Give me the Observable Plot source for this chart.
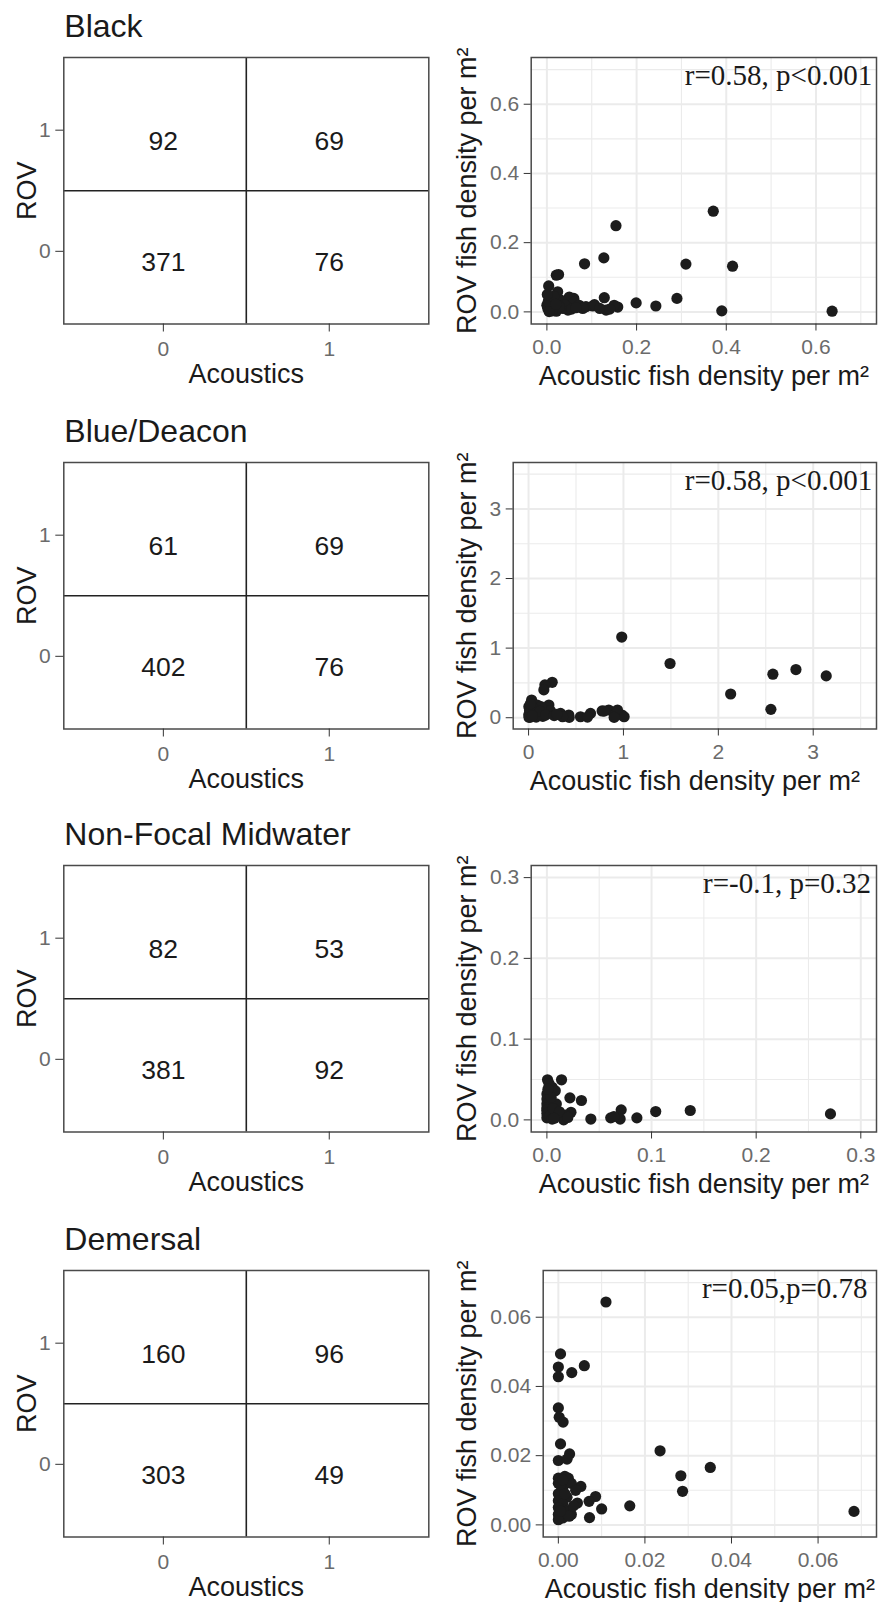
<!DOCTYPE html>
<html><head><meta charset="utf-8">
<script src="https://cdn.jsdelivr.net/npm/d3@7"></script>
<script src="https://cdn.jsdelivr.net/npm/@observablehq/plot@0.6"></script>
<style>
body{margin:0;background:#fff;}
#root{position:relative;width:882px;height:1602px;background:#fff;overflow:hidden;}
#root svg{position:absolute;}
</style></head><body><div id="root"></div>
<script>
// ---------- data ----------
const groupTitles = ["Black", "Blue/Deacon", "Non-Focal Midwater", "Demersal"];
const binaryTicks = [0, 1];
// [acoustics, rov, count]
const blackCounts = [[0, 1, 92], [1, 1, 69], [0, 0, 371], [1, 0, 76]];
const blueCounts = [[0, 1, 61], [1, 1, 69], [0, 0, 402], [1, 0, 76]];
const nonFocalCounts = [[0, 1, 82], [1, 1, 53], [0, 0, 381], [1, 0, 92]];
const demersalCounts = [[0, 1, 160], [1, 1, 96], [0, 0, 303], [1, 0, 49]];

const statLabels = ["r=0.58, p<0.001", "r=0.58, p<0.001", "r=-0.1, p=0.32", "r=0.05,p=0.78"];

// [acoustic density, ROV density]
const blackPoints = [[0.371,0.291],[0.154,0.249],[0.084,0.139],[0.127,0.156],[0.310,0.138],[0.414,0.132],[0.021,0.106],[0.026,0.108],[0.004,0.075],[0.024,0.058],[0.290,0.039],[0.199,0.026],[0.243,0.017],[0.390,0.003],[0.636,0.002],[0.128,0.041],[0.158,0.014],[0.132,0.005],[0.150,0.019],[0.060,0.039],[0.050,0.043],[0.061,0.029],[0.072,0.019],[0.087,0.015],[0.102,0.017],[0.106,0.021],[0.080,0.010],[0.047,0.005],[0.036,0.010],[0.021,0.002],[0.006,0.005],[0.000,0.019],[0.006,0.039],[0.017,0.029],[0.031,0.034],[0.002,0.010],[0.010,0.015],[0.012,0.003],[0.003,0.030],[0.015,0.045],[0.040,0.020],[0.028,0.015],[0.055,0.008],[0.065,0.012],[0.118,0.010],[0.140,0.008],[0.005,0.001],[0.001,0.050],[0.020,0.022]];
const bluePoints = [[0.982,1.159],[1.491,0.779],[2.130,0.341],[2.575,0.625],[2.818,0.692],[3.137,0.601],[2.554,0.120],[0.249,0.509],[0.172,0.472],[0.161,0.400],[0.032,0.255],[0.003,0.159],[0.091,0.183],[0.214,0.183],[0.230,0.100],[0.337,0.062],[0.424,0.039],[0.547,0.014],[0.653,0.062],[0.775,0.097],[0.845,0.111],[0.916,0.062],[0.985,0.039],[0.937,0.110],[1.007,0.014],[0.902,0.005],[0.796,0.096],[0.621,0.010],[0.428,0.005],[0.358,0.014],[0.130,0.159],[0.002,0.040],[0.050,0.080],[0.100,0.050],[0.150,0.020],[0.080,0.010],[0.020,0.010],[0.060,0.120],[0.010,0.100],[0.120,0.090],[0.180,0.040],[0.270,0.030],[0.005,0.005],[0.040,0.030],[0.300,0.050],[0.020,0.200]];
const nonFocalPoints = [[0.271,0.0074],[0.137,0.0116],[0.104,0.0103],[0.086,0.0025],[0.071,0.0124],[0.070,0.0010],[0.061,0.0025],[0.064,0.004],[0.042,0.0010],[0.033,0.0240],[0.022,0.0273],[0.014,0.0496],[0.0006,0.0496],[0.005,0.0404],[0.008,0.036],[0.0,0.032],[0.0,0.026],[0.0,0.020],[0.0,0.015],[0.0,0.012],[0.0,0.008],[0.0,0.0026],[0.003,0.005],[0.009,0.0198],[0.010,0.005],[0.023,0.0094],[0.018,0.006],[0.016,0.0],[0.005,0.001],[0.002,0.045],[0.004,0.028],[0.006,0.014],[0.012,0.010],[0.001,0.038],[0.007,0.002],[0.020,0.003]];
const demersalPoints = [[0.0110,0.0644],[0.0005,0.0494],[0.0,0.0456],[0.0,0.0428],[0.0031,0.0440],[0.0060,0.0460],[0.0,0.0338],[0.0002,0.0311],[0.0011,0.0297],[0.0005,0.0234],[0.0026,0.0205],[0.0,0.0186],[0.0020,0.0190],[0.0235,0.0214],[0.0351,0.0166],[0.0283,0.0142],[0.0287,0.0097],[0.0683,0.0039],[0.0165,0.0055],[0.0100,0.0046],[0.0072,0.0021],[0.0086,0.0082],[0.0071,0.0068],[0.0052,0.0111],[0.0044,0.0063],[0.0,0.0135],[0.0023,0.0135],[0.0,0.0120],[0.001,0.0105],[0.0,0.0090],[0.002,0.0080],[0.0,0.0070],[0.001,0.0060],[0.0,0.0050],[0.002,0.0040],[0.0,0.0030],[0.001,0.0020],[0.0,0.0015],[0.003,0.0030],[0.003,0.0120],[0.004,0.0100],[0.0015,0.0140],[0.0005,0.0115],[0.0035,0.0055],[0.0015,0.0090],[0.0025,0.0025],[0.0005,0.0040],[0.001,0.0130]];

// axis tick values (major / minor grid)
const blackMajor = [0, 0.2, 0.4, 0.6], blackMinor = [0.1, 0.3, 0.5, 0.7];
const blueMajor = [0, 1, 2, 3], blueMinor = [0.5, 1.5, 2.5, 3.5];
const nonFocalMajor = [0, 0.1, 0.2, 0.3], nonFocalMinor = [0.05, 0.15, 0.25];
const demersalMajor = [0, 0.02, 0.04, 0.06], demersalMinor = [0.01, 0.03, 0.05, 0.07];

// ---------- layout ----------
const rowTops = [57.3, 461.5, 865, 1269.7];
const H = 266.5, MT = 57, MB = 80;
const FONT = "'Liberation Sans', Arial, Helvetica, sans-serif";
const INK = "#1a1a1a", TICKTXT = "#6b6b6b", BORDER = "#4a4a4a";

const root = document.getElementById("root");

function place(svg, left, top) {
  svg.style.left = left + "px";
  svg.style.top = top + "px";
  root.appendChild(svg);
}

const countSets = [blackCounts, blueCounts, nonFocalCounts, demersalCounts];
const pointSets = [blackPoints, bluePoints, nonFocalPoints, demersalPoints];
const scatterCfg = [
  {major: blackMajor, minor: blackMinor, domain: [-0.035, 0.735], fmt: d3.format(".1f"), fl: 530.7, sdx: -4.3},
  {major: blueMajor, minor: blueMinor, domain: [-0.162, 3.667], fmt: d3.format("d"), fl: 512.7, sdx: -4.3},
  {major: nonFocalMajor, minor: nonFocalMinor, domain: [-0.015, 0.315], fmt: d3.format(".1f"), fl: 530.7, sdx: -5.5},
  {major: demersalMajor, minor: demersalMinor, domain: [-0.0035, 0.0735], fmt: d3.format(".2f"), fl: 542.7, sdx: -9}
];

groupTitles.forEach((title, i) => {
  const T = rowTops[i];
  const cells = countSets[i].map(([a, r, n]) => ({acoustics: a, rov: r, n}));
  // left: contingency table
  const left = Plot.plot({
    width: 440, height: MT + H + MB,
    marginLeft: 63.3, marginRight: 11.7, marginTop: MT, marginBottom: MB,
    style: {fontFamily: FONT, background: "transparent", color: INK, overflow: "visible"},
    x: {domain: [-0.6, 1.6]},
    y: {domain: [-0.6, 1.6]},
    marks: [
      Plot.ruleX([0.5], {stroke: "#222", strokeWidth: 1.6}),
      Plot.ruleY([0.5], {stroke: "#222", strokeWidth: 1.6}),
      Plot.text(cells, {x: "acoustics", y: "rov", text: d => String(d.n), dy: 11, fontSize: 26.5, fill: INK}),
      Plot.frame({stroke: BORDER, strokeWidth: 1.5}),
      Plot.axisX({ticks: binaryTicks, tickFormat: d3.format("d"), tickSize: 8, tickPadding: 9, fontSize: 21, fill: TICKTXT, stroke: "#333", label: null}),
      Plot.axisY({ticks: binaryTicks, tickFormat: d3.format("d"), tickSize: 8, tickPadding: 5, fontSize: 21, fill: TICKTXT, stroke: "#333", label: null}),
      Plot.text([title], {text: d => d, frameAnchor: "top-left", textAnchor: "start", lineAnchor: "bottom", dy: -21, dx: 0.5, fontSize: 32, fill: INK}),
      Plot.text(["Acoustics"], {text: d => d, frameAnchor: "bottom", textAnchor: "middle", lineAnchor: "bottom", dy: 59.4, fontSize: 27, fill: INK}),
      Plot.text(["ROV"], {text: d => d, frameAnchor: "left", textAnchor: "middle", rotate: -90, lineAnchor: "bottom", dx: 35 - 63.3, fontSize: 27, fill: INK})
    ]
  });
  place(left, 0, T - MT);

  // right: scatter
  const c = scatterCfg[i];
  const grid = {stroke: "#ebebeb", strokeOpacity: 1};
  const right = Plot.plot({
    width: 442, height: MT + H + MB,
    marginLeft: c.fl - 440, marginRight: 6, marginTop: MT, marginBottom: MB,
    style: {fontFamily: FONT, background: "transparent", color: INK, overflow: "visible"},
    x: {domain: c.domain},
    y: {domain: c.domain},
    marks: [
      Plot.gridX({ticks: c.minor, ...grid, strokeWidth: 1.1}),
      Plot.gridY({ticks: c.minor, ...grid, strokeWidth: 1.1}),
      Plot.gridX({ticks: c.major, ...grid, strokeWidth: 2}),
      Plot.gridY({ticks: c.major, ...grid, strokeWidth: 2}),
      Plot.dot(pointSets[i], {x: d => d[0], y: d => d[1], r: 5.6, fill: "#1c1c1c", stroke: "none"}),
      Plot.frame({stroke: BORDER, strokeWidth: 1.5}),
      Plot.axisX({ticks: c.major, tickFormat: c.fmt, tickSize: 7, tickPadding: 8, fontSize: 21, fill: TICKTXT, stroke: "#333", label: null}),
      Plot.axisY({ticks: c.major, tickFormat: c.fmt, tickSize: 7, tickPadding: 5, fontSize: 21, fill: TICKTXT, stroke: "#333", label: null}),
      Plot.text([statLabels[i]], {text: d => d, frameAnchor: "top-right", textAnchor: "end", lineAnchor: "bottom", dx: c.sdx, dy: 27, fontSize: 29, fontFamily: "'Liberation Serif', 'Times New Roman', serif", fill: INK}),
      Plot.text(["Acoustic fish density per m²"], {text: d => d, frameAnchor: "bottom", textAnchor: "middle", lineAnchor: "bottom", dy: 60.5, fontSize: 27, fill: INK}),
      Plot.text(["ROV fish density per m²"], {text: d => d, frameAnchor: "left", textAnchor: "middle", rotate: -90, lineAnchor: "bottom", dx: 475 - c.fl, fontSize: 27, fill: INK})
    ]
  });
  place(right, 440, T - MT);
});
</script>
</body></html>
